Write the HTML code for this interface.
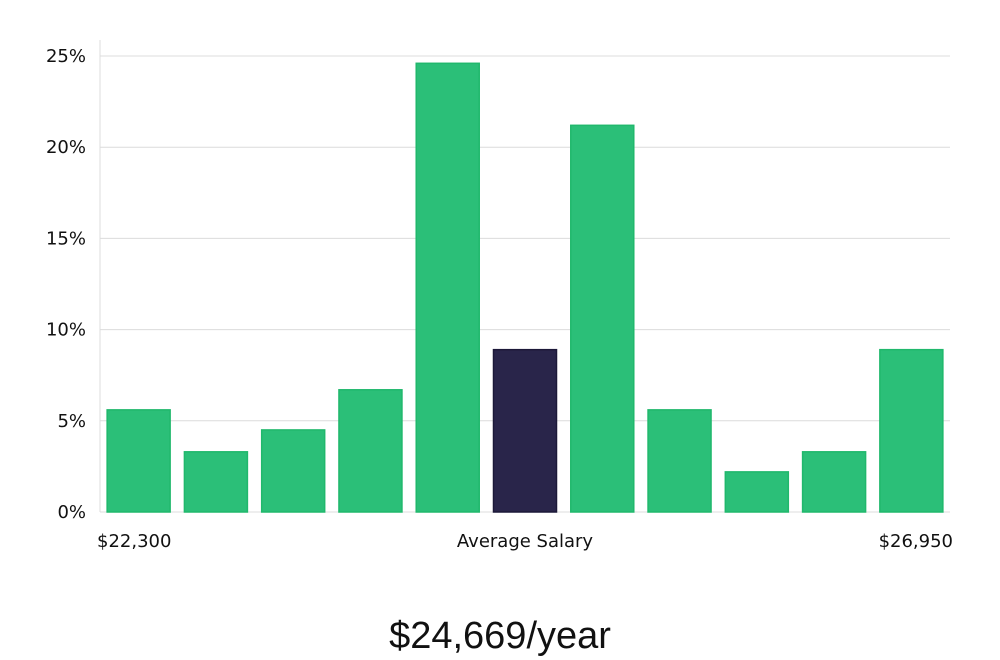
<!DOCTYPE html>
<html><head><meta charset="utf-8"><style>
body{margin:0;background:#fff;width:1000px;height:660px;overflow:hidden;font-family:"DejaVu Sans","Liberation Sans",sans-serif;}
svg{display:block}
</style></head><body>
<svg width="1000" height="660">
<g id="grid"></g><g id="bars"></g><g id="labels"></g>
<line x1="100" y1="40" x2="100" y2="512" stroke="#dcdcdc" stroke-width="1"/>
<text x="97" y="547" font-size="18" fill="#111">$22,300</text>
<text x="525" y="547" font-size="18" fill="#111" text-anchor="middle">Average Salary</text>
<text x="953" y="547" font-size="18" fill="#111" text-anchor="end">$26,950</text>
<text x="500" y="648" font-size="38" fill="#111" text-anchor="middle" font-family="'Liberation Sans',sans-serif" font-weight="300">$24,669/year</text>
</svg>
<script>
const categories=["b1","b2","b3","b4","b5","avg","b7","b8","b9","b10","b11"];
const values=[5.6,3.3,4.5,6.7,24.6,8.9,21.2,5.6,2.2,3.3,8.9];
const highlight=[false,false,false,false,false,true,false,false,false,false,false];
const yTicks=[0,5,10,15,20,25];
const NS="http://www.w3.org/2000/svg";
const left=100,right=950,y0=512,pxPer=456/25;
const yScale=v=>y0-v*pxPer;
const band=(right-left)/categories.length;
const grid=document.getElementById('grid'),bars=document.getElementById('bars'),labels=document.getElementById('labels');
yTicks.forEach(t=>{
  const l=document.createElementNS(NS,'line');
  l.setAttribute('x1',left);l.setAttribute('x2',right);
  l.setAttribute('y1',yScale(t));l.setAttribute('y2',yScale(t));
  l.setAttribute('stroke','#dcdcdc');l.setAttribute('stroke-width','1');
  
  
  grid.appendChild(l);
  const tx=document.createElementNS(NS,'text');
  tx.setAttribute('x',86);tx.setAttribute('y',yScale(t)+6);
  tx.setAttribute('text-anchor','end');tx.setAttribute('font-size','18');tx.setAttribute('fill','#111');
  tx.textContent=t+'%';
  
  
  labels.appendChild(tx);
});
values.forEach((v,i)=>{
  const r=document.createElementNS(NS,'rect');
  const w=63,x=left+band*i+(band-w)/2;
  r.setAttribute('x',x);r.setAttribute('y',yScale(v));
  r.setAttribute('width',w);r.setAttribute('height',y0-yScale(v));
  r.setAttribute('fill',highlight[i]?'#29254a':'#2bbf78');
  r.setAttribute('stroke',highlight[i]?'#1c1838':'#20b86c');r.setAttribute('stroke-width','1.5');
  
  
  bars.appendChild(r);
});
</script>
</body></html>
